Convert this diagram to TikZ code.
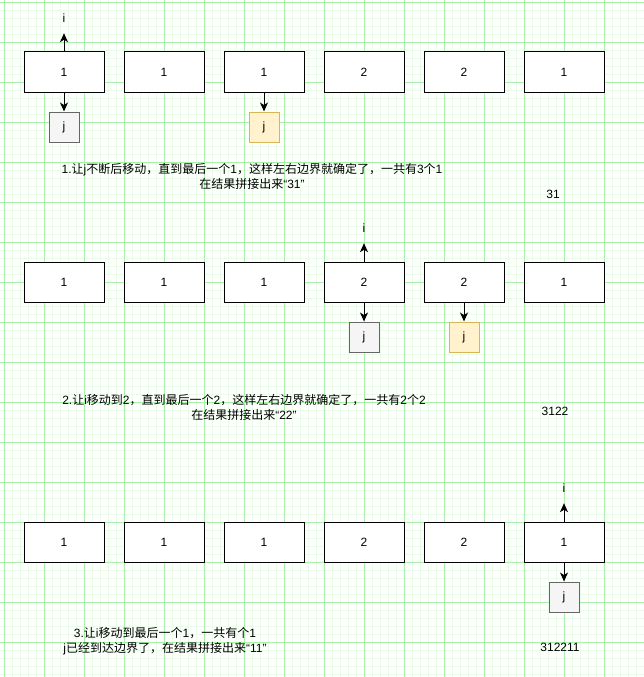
\documentclass[tikz,border=0pt]{standalone}
\usepackage{fontspec}
\setmainfont{Liberation Sans}
\newfontfamily\cjk{Noto Sans CJK SC}
\usetikzlibrary{arrows.meta}
\newcommand\zhs[1]{{\cjk #1}}
\definecolor{gmajor}{RGB}{170,240,170}
\definecolor{gminor}{RGB}{232,252,232}
\definecolor{jgrayfill}{HTML}{F5F5F5}
\definecolor{jgrayline}{HTML}{666666}
\definecolor{jorfill}{HTML}{FFF2CC}
\definecolor{jorline}{HTML}{D6B656}
\begin{document}
\begin{tikzpicture}[x=1pt,y=-1pt,
  cell/.style={draw=black,line width=1pt,fill=white,minimum width=80pt,minimum height=40pt,inner sep=0pt,font=\fontsize{12}{14}\selectfont},
  jgray/.style={draw=jgrayline,fill=jgrayfill,line width=1pt,minimum size=30pt,inner sep=0pt,font=\fontsize{12}{14}\selectfont},
  jor/.style={jgray,draw=jorline,fill=jorfill},
  ilab/.style={minimum width=20pt,minimum height=30pt,inner sep=0pt,font=\fontsize{12}{14}\selectfont},
  ptr/.style={-{Stealth[length=9pt,width=8pt,inset=2.5pt]},line width=1pt},
  note/.style={align=center,font=\fontsize{12}{15}\selectfont,inner sep=0pt},
]
\fill[white] (0,0) rectangle (644,677);
\useasboundingbox (0,0) rectangle (644,677);
% grid
\foreach \k in {0,...,80} {\draw[gminor,line width=0.6pt] ({4+8*\k},0) -- ({4+8*\k},677);}
\foreach \k in {0,...,84} {\draw[gminor,line width=0.6pt] (0,{2.7+8*\k}) -- (644,{2.7+8*\k});}
\foreach \k in {0,...,16} {\draw[gmajor,line width=0.8pt] ({4+40*\k},0) -- ({4+40*\k},677);}
\foreach \k in {0,...,16} {\draw[gmajor,line width=0.8pt] (0,{2.7+40*\k}) -- (644,{2.7+40*\k});}

% rows of cells
\foreach \r/\y in {1/72,2/282,3/542} {
  \foreach \c/\v in {1/1,2/1,3/1,4/2,5/2,6/1} {
    \node[cell] (b\r\c) at ({64+100*(\c-1)},\y) {\v};
  }
}

% row 1 pointers
\node[ilab] (i1) at (64,18) {i};
\node[jgray] (jg1) at (64,127) {j};
\node[jor] (jo1) at (264,127) {j};
\draw[ptr] (b11.north) -- (i1.south);
\draw[ptr] (b11.south) -- (jg1.north);
\draw[ptr] (b13.south) -- (jo1.north);

% row 2 pointers
\node[ilab] (i2) at (364,228) {i};
\node[jgray] (jg2) at (364,337) {j};
\node[jor] (jo2) at (464,337) {j};
\draw[ptr] (b24.north) -- (i2.south);
\draw[ptr] (b24.south) -- (jg2.north);
\draw[ptr] (b25.south) -- (jo2.north);

% row 3 pointers
\node[ilab] (i3) at (564,488) {i};
\node[jgray] (jg3) at (564,597) {j};
\draw[ptr] (b36.north) -- (i3.south);
\draw[ptr] (b36.south) -- (jg3.north);

% notes
\node[note] (n1) at (252,176.5) {1.\zhs{让}j\zhs{不断后移动，直到最后一个}1\zhs{，这样左右边界就确定了，一共有}3\zhs{个}1\\\zhs{在结果拼接出来}“31”};
\node[note] (s1) at (553,194) {31};
\node[note] (n2) at (244,407) {2.\zhs{让}i\zhs{移动到}2\zhs{，直到最后一个}2\zhs{，这样左右边界就确定了，一共有}2\zhs{个}2\\\zhs{在结果拼接出来}“22”};
\node[note] (s2) at (555,411) {3122};
\node[note] (n3) at (165,641) {3.\zhs{让}i\zhs{移动到最后一个}1\zhs{，一共有个}1\\j\zhs{已经到达边界了，在结果拼接出来}“11”};
\node[note] (s3) at (560,647) {312211};
\end{tikzpicture}
\end{document}
